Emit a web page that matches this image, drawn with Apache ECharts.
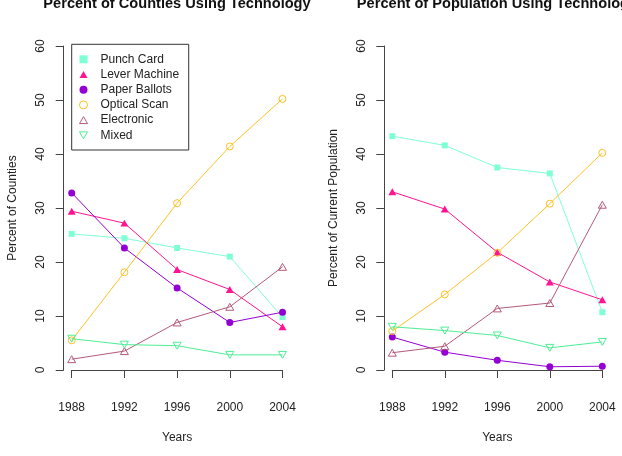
<!DOCTYPE html>
<html>
<head>
<meta charset="utf-8">
<script src="https://cdn.jsdelivr.net/npm/echarts@6/dist/echarts.min.js"></script>
<style>
html,body{margin:0;padding:0;background:#fff;}
#chart{width:622px;height:456px;}
</style>
</head>
<body>
<div id="chart"></div>
<script>
var years = [1988, 1992, 1996, 2000, 2004];
var xTicks = [1988, 1992, 1996, 2000, 2004];
var yTicks = [0, 10, 20, 30, 40, 50, 60];
var techNames = ['Punch Card', 'Lever Machine', 'Paper Ballots', 'Optical Scan', 'Electronic', 'Mixed'];

// Percent of counties
var countiesPunch = [25.2, 24.4, 22.6, 21.0, 9.8];
var countiesLever = [29.4, 27.2, 18.6, 14.9, 8.0];
var countiesPaper = [32.8, 22.6, 15.2, 8.8, 10.7];
var countiesOptical = [5.5, 18.1, 30.9, 41.4, 50.2];
var countiesElectronic = [2.0, 3.5, 8.8, 11.7, 19.1];
var countiesMixed = [5.8, 4.7, 4.5, 2.8, 2.8];

// Percent of population
var popPunch = [43.3, 41.6, 37.5, 36.4, 10.7];
var popLever = [33.0, 29.8, 21.8, 16.3, 13.0];
var popPaper = [6.1, 3.3, 1.8, 0.6, 0.7];
var popOptical = [7.2, 14.0, 21.7, 30.8, 40.2];
var popElectronic = [3.2, 4.4, 11.4, 12.4, 30.6];
var popMixed = [8.0, 7.3, 6.4, 4.1, 5.2];

var countiesData = [countiesPunch, countiesLever, countiesPaper, countiesOptical, countiesElectronic, countiesMixed];
var popData = [popPunch, popLever, popPaper, popOptical, popElectronic, popMixed];

var colors = ['#7FFFD4', '#FF1493', '#9400D3', '#FFC125', '#B45A78', '#4EEE94'];
var FONT = '"Liberation Sans", Arial, Helvetica, sans-serif';

var PATH_SQUARE = 'path://M0,0L10,0L10,10L0,10Z';
var PATH_TRI = 'path://M5,0L10,8.66L0,8.66Z';
var PATH_DTRI = 'path://M0,0L10,0L5,8.66Z';
var PATH_CIRCLE = 'path://M10,5A5,5,0,1,1,0,5A5,5,0,1,1,10,5Z';

var symbols = [PATH_SQUARE, PATH_TRI, PATH_CIRCLE, PATH_CIRCLE, PATH_TRI, PATH_DTRI];
var sizes = [6, 8, 7, 7, 8, 8];
var filled = [true, true, true, false, false, false];

function itemStyleFor(i) {
  if (filled[i]) return { color: colors[i], borderWidth: 0 };
  return { color: 'rgba(255,255,255,0)', borderColor: colors[i], borderWidth: 1 };
}

function makeSeries(dataSets, gi) {
  return dataSets.map(function (vals, i) {
    return {
      name: techNames[i],
      type: 'line',
      xAxisIndex: gi,
      yAxisIndex: gi,
      data: years.map(function (y, k) { return [y, vals[k]]; }),
      symbol: symbols[i],
      symbolSize: sizes[i],
      symbolKeepAspect: true,
      showAllSymbol: true,
      clip: false,
      lineStyle: { color: colors[i], width: 1 },
      itemStyle: itemStyleFor(i),
      emphasis: { disabled: true },
      animation: false
    };
  });
}

function xAxisFor(gi) {
  return {
    type: 'value', gridIndex: gi, min: xTicks[0], max: xTicks[xTicks.length - 1], interval: 4,
    offset: 13,
    axisLine: { show: true, lineStyle: { color: '#444', width: 1 } },
    axisTick: { show: true, length: 8, lineStyle: { color: '#444' } },
    axisLabel: { margin: 19, color: '#222', fontSize: 12, fontFamily: FONT,
      formatter: function (v) { return String(v); } },
    splitLine: { show: false },
    name: 'Years', nameLocation: 'middle', nameGap: 49,
    nameTextStyle: { color: '#222', fontSize: 12, fontFamily: FONT }
  };
}

function yAxisFor(gi, name) {
  return {
    type: 'value', gridIndex: gi, min: yTicks[0], max: yTicks[yTicks.length - 1], interval: 10,
    offset: 8,
    axisLine: { show: true, lineStyle: { color: '#444', width: 1 } },
    axisTick: { show: true, length: 8, lineStyle: { color: '#444' } },
    axisLabel: { margin: 17, rotate: 90, color: '#222', fontSize: 12, fontFamily: FONT },
    splitLine: { show: false },
    name: name, nameLocation: 'middle', nameGap: 45, nameRotate: 90,
    nameTextStyle: { color: '#222', fontSize: 12, fontFamily: FONT }
  };
}

var chart = echarts.init(document.getElementById('chart'), null, { renderer: 'canvas' });
chart.setOption({
  animation: false,
  backgroundColor: '#ffffff',
  textStyle: { fontFamily: FONT },
  grid: [
    { left: 71.7, top: 46, width: 210.8, height: 324 },
    { left: 392.3, top: 46, width: 210, height: 324 }
  ],
  xAxis: [xAxisFor(0), xAxisFor(1)],
  yAxis: [yAxisFor(0, 'Percent of Counties'), yAxisFor(1, 'Percent of Current Population')],
  legend: {
    left: 71.7, top: 44.3,
    orient: 'vertical',
    padding: [7.5, 9.5, 7.2, 7.3],
    borderColor: '#333', borderWidth: 1, borderRadius: 0,
    itemWidth: 8, itemHeight: 8, itemGap: 0.2,
    symbolKeepAspect: true,
    selectedMode: false,
    textStyle: { fontSize: 12, lineHeight: 15, color: '#222', fontFamily: FONT, padding: [0, 0, 0, 8] },
    data: techNames.map(function (n, i) {
      return { name: n, icon: symbols[i], itemStyle: itemStyleFor(i) };
    })
  },
  graphic: [
    { type: 'text', x: 177, y: -4, style: { text: 'Percent of Counties Using Technology', font: 'bold 14.6px ' + FONT, fill: '#111', textAlign: 'center', textVerticalAlign: 'top' } },
    { type: 'text', x: 497, y: -4, style: { text: 'Percent of Population Using Technology', font: 'bold 14.6px ' + FONT, fill: '#111', textAlign: 'center', textVerticalAlign: 'top' } }
  ],
  series: makeSeries(countiesData, 0).concat(makeSeries(popData, 1))
});
</script>
</body>
</html>
